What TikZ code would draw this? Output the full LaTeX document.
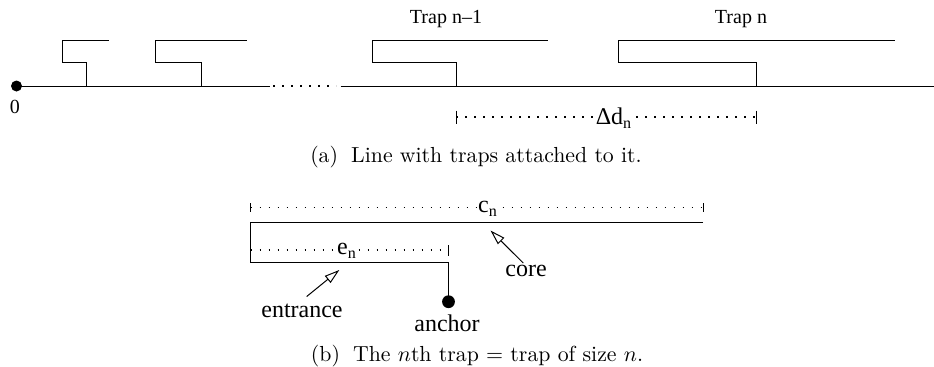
\documentclass[tikz,border=0pt]{standalone}
\usepackage{fontspec}
\newfontfamily\labfont{Liberation Serif}
\usetikzlibrary{arrows.meta}
\begin{document}
\begin{tikzpicture}[x=0.5pt,y=-0.5pt,
  line/.style={line width=0.5pt},
  dotline/.style={line width=0.7pt,dash pattern=on 0.8pt off 3.7pt},
  tick/.style={line width=0.5pt},
  lab/.style={font=\labfont\fontsize{10}{12}\selectfont,inner sep=0.5pt},
  labb/.style={font=\labfont\fontsize{12}{14}\selectfont,inner sep=0.5pt},
  gaplab/.style={labb,fill=white,inner sep=0.6pt},
  captext/.style={font=\fontsize{10.9}{13}\selectfont,inner sep=0pt},
  openarrow/.style={line width=0.5pt,-{Triangle[open,length=7.5pt,width=4.5pt]}}
]
\useasboundingbox (0,0) rectangle (934,366);

% ---------- (a) main line ----------
\coordinate (o) at (16.5,86);
\coordinate (l1) at (270,86);
\coordinate (d1) at (273,86);
\coordinate (d2) at (336,86);
\coordinate (l2) at (340.7,86);
\coordinate (lend) at (934,86);
\draw[line] (o) -- (l1);
\draw[dotline] (d1) -- (d2);
\draw[line] (l2) -- (lend);
\fill (o) circle[radius=2.75pt];
\node[lab] (zero) at (15,107) {0};

% traps: stem x, left x, right x
\foreach \n/\xs/\xl/\xr in {t1/86.3/62.7/108.7, t2/201.3/155.3/247.3, t3/456/372.5/548, t4/756.7/618/895}{
  \coordinate (\n-a) at (\xs,86);
  \coordinate (\n-b) at (\xs,62);
  \coordinate (\n-c) at (\xl,62);
  \coordinate (\n-d) at (\xl,40);
  \coordinate (\n-e) at (\xr,40);
  \draw[line] (\n-a) -- (\n-b) -- (\n-c) -- (\n-d) -- (\n-e);
}
\node[lab] (trapnm) at (446,19) {Trap n\textendash1};
\node[lab] (trapn) at (741,19) {Trap n};

% Delta d_n bracket
\coordinate (dl) at (456,117);
\coordinate (dr) at (756.7,117);
\coordinate (dlt) at (456,110.5);
\coordinate (dlb) at (456,123.5);
\coordinate (drt) at (756.7,110.5);
\coordinate (drb) at (756.7,123.5);
\draw[dotline] (dl) -- (dr);
\draw[tick] (dlt) -- (dlb);
\draw[tick] (drt) -- (drb);
\node[gaplab] (dd) at (614,118) {Δd\textsubscript{n}};

\node[captext] (capa) at (476,157) {(a)\hspace{0.6em}Line with traps attached to it.};

% ---------- (b) trap ----------
\coordinate (ctl) at (250.7,222.3);
\coordinate (ctr) at (703,222.3);
\coordinate (cbl) at (250.7,262.3);
\coordinate (cbr) at (448.5,262.3);
\coordinate (anc) at (448.5,301.7);
\draw[line] (ctr) -- (ctl) -- (cbl) -- (cbr) -- (anc);
\fill (anc) circle[radius=3.2pt];

% c_n bracket
\coordinate (cl) at (250.7,207.7);
\coordinate (cr) at (703,207.7);
\draw[dotline] (cl) -- (cr);
\coordinate (clt) at (250.7,203);
\coordinate (clb) at (250.7,212);
\coordinate (crt) at (703,203);
\coordinate (crb) at (703,212);
\draw[tick] (clt) -- (clb);
\draw[tick] (crt) -- (crb);
\node[gaplab] (cn) at (488,209) {c\textsubscript{n}};

% e_n bracket
\coordinate (el) at (250.7,250);
\coordinate (er) at (448.5,250);
\draw[dotline] (el) -- (er);
\coordinate (ert) at (448.5,245);
\coordinate (erb) at (448.5,256);
\draw[tick] (ert) -- (erb);
\node[gaplab] (en) at (347,251) {e\textsubscript{n}};

% labels and arrows
\node[labb] (core) at (526,271) {core};
\coordinate (coretail) at (523.3,263);
\coordinate (coretip) at (490.5,230.5);
\draw[openarrow] (coretail) -- (coretip);

\node[labb] (entr) at (302,311) {entrance};
\coordinate (entail) at (306.7,296.5);
\coordinate (entip) at (339.3,270);
\draw[openarrow] (entail) -- (entip);

\node[labb] (anchor) at (447,323) {anchor};

\node[captext] (capb) at (477,356) {(b)\hspace{0.6em}The $n$th trap $=$ trap of size $n$.};
\end{tikzpicture}
\end{document}
